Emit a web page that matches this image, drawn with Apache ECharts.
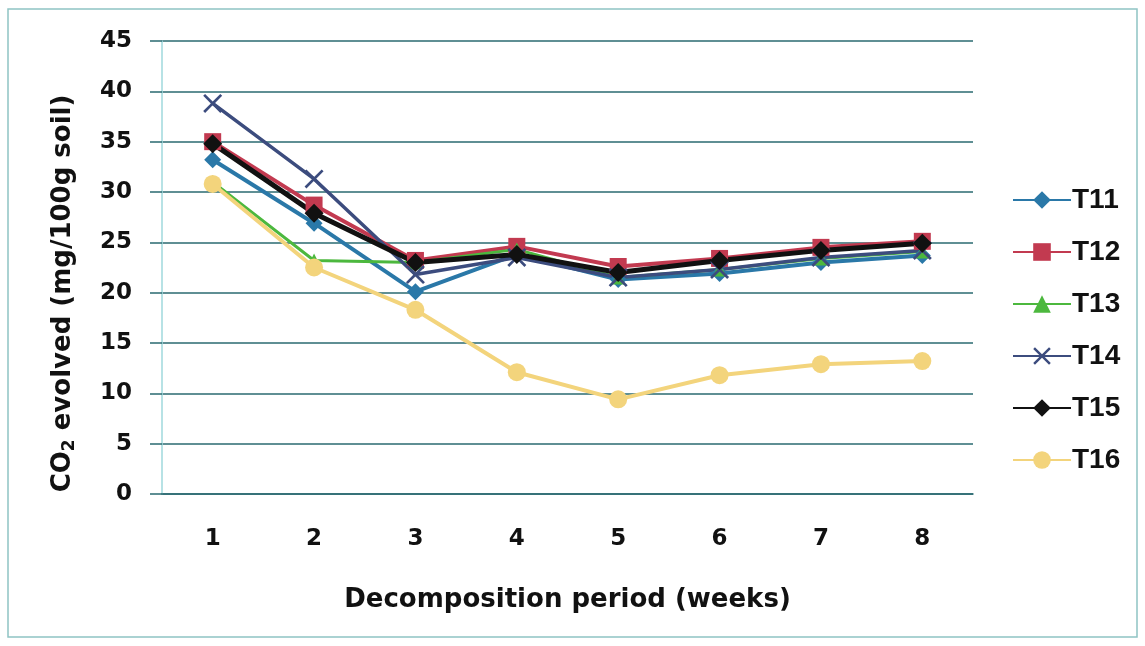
<!DOCTYPE html>
<html><head><meta charset="utf-8">
<script src="https://cdn.jsdelivr.net/npm/echarts@6/dist/echarts.min.js"></script>
<style>html,body{margin:0;padding:0;background:#fff}#c{width:1145px;height:646px}</style>
</head><body><div id="c"></div>
<script>
const weeks = ['1','2','3','4','5','6','7','8'];
const T11 = [33.2, 26.9, 20.1, 23.8, 21.3, 21.9, 23.0, 23.7];
const T12 = [35.0, 28.7, 23.2, 24.6, 22.6, 23.4, 24.5, 25.1];
const T13 = [31.0, 23.2, 23.0, 24.3, 21.5, 22.3, 23.4, 24.1];
const T14 = [38.8, 31.3, 21.8, 23.5, 21.5, 22.3, 23.5, 24.2];
const T15 = [34.8, 27.9, 23.0, 23.8, 22.0, 23.2, 24.2, 24.9];
const T16 = [30.8, 22.5, 18.3, 12.1, 9.4, 11.8, 12.9, 13.2];
const names = ['T11','T12','T13','T14','T15','T16'];

const xPath = 'path://M0,1 L1,0 L5,4 L9,0 L10,1 L6,5 L10,9 L9,10 L5,6 L1,10 L0,9 L4,5 Z';
const defs = [
  {n:'T11', d:T11, c:'#2a78a8', s:'diamond', z:17, w:4},
  {n:'T12', d:T12, c:'#c23a50', s:'rect', z:17, w:4},
  {n:'T13', d:T13, c:'#4cb83e', s:'triangle', z:14, w:3},
  {n:'T14', d:T14, c:'#3c4c7e', s:xPath, z:19, w:3.5},
  {n:'T15', d:T15, c:'#111111', s:'diamond', z:19, w:5},
  {n:'T16', d:T16, c:'#f3d47c', s:'circle', z:18, w:4}
];
const series = defs.map(o => ({
  name:o.n, type:'line', data:o.d, symbol:o.s, symbolSize:o.z,
  lineStyle:{color:o.c, width:o.w}, itemStyle:{color:o.c, borderWidth:0},
  emphasis:{disabled:true}, animation:false
}));
const F = 'DejaVu Sans';
const chart = echarts.init(document.getElementById('c'));
chart.setOption({
  backgroundColor:'#fff',
  animation:false,
  graphic:[{type:'rect', shape:{x:8,y:9,width:1129,height:628}, style:{fill:'none', stroke:'#8fc4c4', lineWidth:1.5}, silent:true}],
  grid:{left:162, right:172, top:41, bottom:152},
  legend:{
    orient:'vertical', left:1007, top:181, itemWidth:58, itemHeight:22, itemGap:24,
    textStyle:{fontFamily:'Liberation Sans', fontWeight:'bold', fontSize:28, color:'#111', padding:[0,0,0,-4]},
    data:names
  },
  xAxis:{
    type:'category', data:weeks, boundaryGap:true,
    axisLine:{lineStyle:{color:'#2a6a70', width:1.5}},
    axisTick:{show:false},
    axisLabel:{fontFamily:F, fontWeight:'bold', fontSize:23, color:'#111', margin:34},
    name:'Decomposition period (weeks)', nameLocation:'middle', nameGap:93,
    nameTextStyle:{fontFamily:F, fontWeight:'bold', fontSize:26, color:'#111'}
  },
  yAxis:{
    type:'value', min:0, max:45, interval:5,
    axisLine:{show:true, lineStyle:{color:'#9fd8dc', width:1.5}},
    axisTick:{show:true, inside:false, length:12, lineStyle:{color:'#2a6a70', width:1.5}},
    splitLine:{lineStyle:{color:'#2a6a70', width:1.5}},
    axisLabel:{fontFamily:F, fontWeight:'bold', fontSize:23, color:'#111', margin:30},
    name:'{a|CO}{b|2}{a| evolved (mg/100g soil)}', nameLocation:'middle', nameGap:84, nameRotate:90,
    nameTextStyle:{
      padding:[0,52,0,0],
      rich:{
        a:{fontFamily:F, fontWeight:'bold', fontSize:26, color:'#111'},
        b:{fontFamily:F, fontWeight:'bold', fontSize:17, color:'#111', padding:[12,0,0,0]}
      }
    }
  },
  series:series
});
</script></body></html>
